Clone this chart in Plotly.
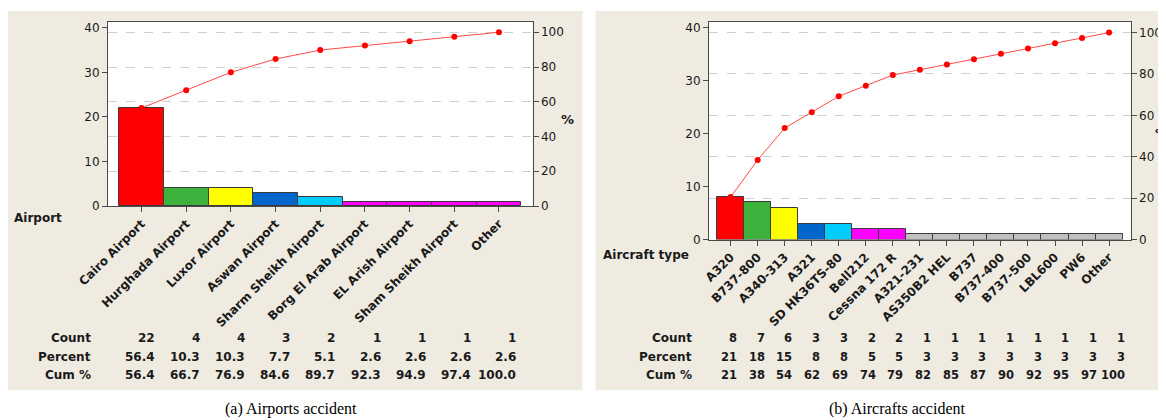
import numpy as np
import plotly.graph_objects as go

W, H = 1166, 420
OFF = 8  # page body margin of the html page

# ---------------- data ----------------
airports = ["Cairo Airport", "Hurghada Airport", "Luxor Airport", "Aswan Airport",
            "Sharm Sheikh Airport", "Borg El Arab Airport", "EL Arish Airport",
            "Sham Sheikh Airport", "Other"]
airport_counts = [22, 4, 4, 3, 2, 1, 1, 1, 1]
airport_percent = ["56.4", "10.3", "10.3", "7.7", "5.1", "2.6", "2.6", "2.6", "2.6"]
airport_cum = ["56.4", "66.7", "76.9", "84.6", "89.7", "92.3", "94.9", "97.4", "100.0"]

aircraft = ["A320", "B737-800", "A340-313", "A321", "SD HK36TS-80", "Bell212",
            "Cessna 172 R", "A321-231", "AS350B2 HEL", "B737", "B737-400",
            "B737-500", "LBL600", "PW6", "Other"]
aircraft_counts = [8, 7, 6, 3, 3, 2, 2, 1, 1, 1, 1, 1, 1, 1, 1]
aircraft_percent = ["21", "18", "15", "8", "8", "5", "5", "3", "3", "3", "3", "3", "3", "3", "3"]
aircraft_cum = ["21", "38", "54", "62", "69", "74", "79", "82", "85", "87", "90", "92", "95", "97", "100"]

RED, GREEN, YELLOW, BLUE, CYAN, MAGENTA, GRAY = (
    "#FF0000", "#3DB33D", "#FFFF00", "#0066CC", "#00CCFF", "#FF00FF", "#C0C0C0")
airport_colors = [RED, GREEN, YELLOW, BLUE, CYAN, MAGENTA, MAGENTA, MAGENTA, MAGENTA]
aircraft_colors = [RED, GREEN, YELLOW, BLUE, CYAN, MAGENTA, MAGENTA] + [GRAY] * 8

# ---------------- geometry helpers (page pixels -> paper fractions) ----------------
def px(x):
    return (x - OFF) / W

def py(y):
    return 1 - (y - OFF) / H

BEIGE = "#EFEBE1"
TXT = "#1A1A1A"
AX = "#4A4A4A"
FONT = "DejaVu Sans"

panels = [
    dict(names=airports, counts=airport_counts, pct=airport_percent, cum=airport_cum,
         colors=airport_colors, xdom=[px(108), px(532.5)], ydom=[py(206), py(22)],
         ymax=41.3, pad=0.25, xa="x", ya="y", ya2="y2",
         col0=157, colstep=45.1, valsize=12,
         title="Airport", title_xy=(12, 218), label_x=93, pct_xy=(559, 120),
         bg=(8, 11, 582.5, 390), caption="(a) Airports accident", cap_x=291),
    dict(names=aircraft, counts=aircraft_counts, pct=aircraft_percent, cum=aircraft_cum,
         colors=aircraft_colors, xdom=[px(709), px(1130.7)], ydom=[py(239.5), py(22)],
         ymax=41.0, pad=0.3, xa="x2", ya="y3", ya2="y4",
         col0=739, colstep=27.7, valsize=11.5,
         title="Aircraft type", title_xy=(601, 255), label_x=694, pct_xy=(1153, 133),
         bg=(595.5, 11, 1180, 390), caption="(b) Aircrafts accident", cap_x=897),
]

fig = go.Figure()
shapes = []
annotations = []
layout_axes = {}

for i, p in enumerate(panels):
    n = len(p["names"])
    xs = list(range(n))
    counts = np.array(p["counts"])
    total = counts.sum()
    cum_pct = np.cumsum(counts) / total * 100

    fig.add_trace(go.Bar(
        x=xs, y=p["counts"], xaxis=p["xa"], yaxis=p["ya"],
        marker=dict(color=p["colors"], line=dict(color="#3A3A3A", width=1)),
        width=1.0, showlegend=False, hoverinfo="skip"))
    fig.add_trace(go.Scatter(
        x=xs, y=cum_pct, xaxis=p["xa"], yaxis=p["ya2"], mode="lines+markers",
        line=dict(color="#FF4A4A", width=1),
        marker=dict(color="#FF0000", size=6), showlegend=False, hoverinfo="skip"))

    xkey = "xaxis" if i == 0 else "xaxis2"
    ykey = "yaxis" if i == 0 else "yaxis3"
    y2key = "yaxis2" if i == 0 else "yaxis4"
    y2range = [0, p["ymax"] / total * 100]

    layout_axes[xkey] = dict(
        domain=p["xdom"], anchor=p["ya"], range=[-0.5 - p["pad"], n - 0.5 + p["pad"]],
        tickmode="array", tickvals=xs, ticktext=p["names"], tickangle=-45,
        ticks="outside", ticklen=5, tickcolor=AX, showline=True, linecolor=AX,
        linewidth=1, mirror=True, showgrid=False, zeroline=False, automargin=False,
        tickfont=dict(family=FONT, size=12, color=TXT, weight="bold"))
    layout_axes[ykey] = dict(
        domain=p["ydom"], anchor=p["xa"], range=[0, p["ymax"]], dtick=10,
        ticks="outside", ticklen=5, tickcolor=AX, showline=True, linecolor=AX,
        linewidth=1, showgrid=False, zeroline=False, automargin=False,
        tickfont=dict(family=FONT, size=12, color=TXT))
    layout_axes[y2key] = dict(
        overlaying=p["ya"], side="right", anchor=p["xa"], range=y2range, dtick=20,
        ticks="outside", ticklen=5, tickcolor=AX, showline=True, linecolor=AX,
        linewidth=1, showgrid=True, gridcolor="#CFCFCF", griddash="dash",
        gridwidth=1, zeroline=False, automargin=False,
        tickfont=dict(family=FONT, size=12, color=TXT))

    # backgrounds
    x0, y0, x1, y1 = p["bg"]
    shapes.append(dict(type="rect", xref="paper", yref="paper", layer="below",
                       x0=px(x0), x1=px(x1), y0=py(y1), y1=py(y0),
                       fillcolor=BEIGE, line=dict(width=0)))
    shapes.append(dict(type="rect", xref="paper", yref="paper", layer="below",
                       x0=p["xdom"][0], x1=p["xdom"][1], y0=p["ydom"][0], y1=p["ydom"][1],
                       fillcolor="white", line=dict(width=0)))

    # axis titles
    annotations.append(dict(xref="paper", yref="paper", x=px(p["title_xy"][0]),
                            y=py(p["title_xy"][1]), xanchor="left", yanchor="middle",
                            text="<b>%s</b>" % p["title"], showarrow=False,
                            font=dict(family=FONT, size=12, color=TXT)))
    annotations.append(dict(xref="paper", yref="paper", x=px(p["pct_xy"][0]),
                            y=py(p["pct_xy"][1]), xanchor="left", yanchor="middle",
                            text="<b>%</b>", showarrow=False,
                            font=dict(family=FONT, size=13, color=TXT)))

    # table under the chart
    rows = [("Count", [str(c) for c in p["counts"]], 338),
            ("Percent", p["pct"], 357),
            ("Cum %", p["cum"], 375)]
    for label, vals, yy in rows:
        annotations.append(dict(xref="paper", yref="paper", x=px(p["label_x"]), y=py(yy),
                                xanchor="right", yanchor="middle", text="<b>%s</b>" % label,
                                showarrow=False, font=dict(family=FONT, size=12, color=TXT)))
        for k, v in enumerate(vals):
            annotations.append(dict(xref="paper", yref="paper",
                                    x=px(p["col0"] + p["colstep"] * k), y=py(yy),
                                    xanchor="right", yanchor="middle", text="<b>%s</b>" % v,
                                    showarrow=False,
                                    font=dict(family=FONT, size=p["valsize"], color=TXT)))

    # caption
    annotations.append(dict(xref="paper", yref="paper", x=px(p["cap_x"]), y=py(409),
                            xanchor="center", yanchor="middle", text=p["caption"],
                            showarrow=False,
                            font=dict(family="Liberation Serif", size=16, color="#000000")))

fig.update_layout(
    width=W, height=H, margin=dict(l=0, r=0, t=0, b=0, autoexpand=False),
    paper_bgcolor="white", plot_bgcolor="white", bargap=0,
    shapes=shapes, annotations=annotations, **layout_axes)

fig.write_html("out.html")
